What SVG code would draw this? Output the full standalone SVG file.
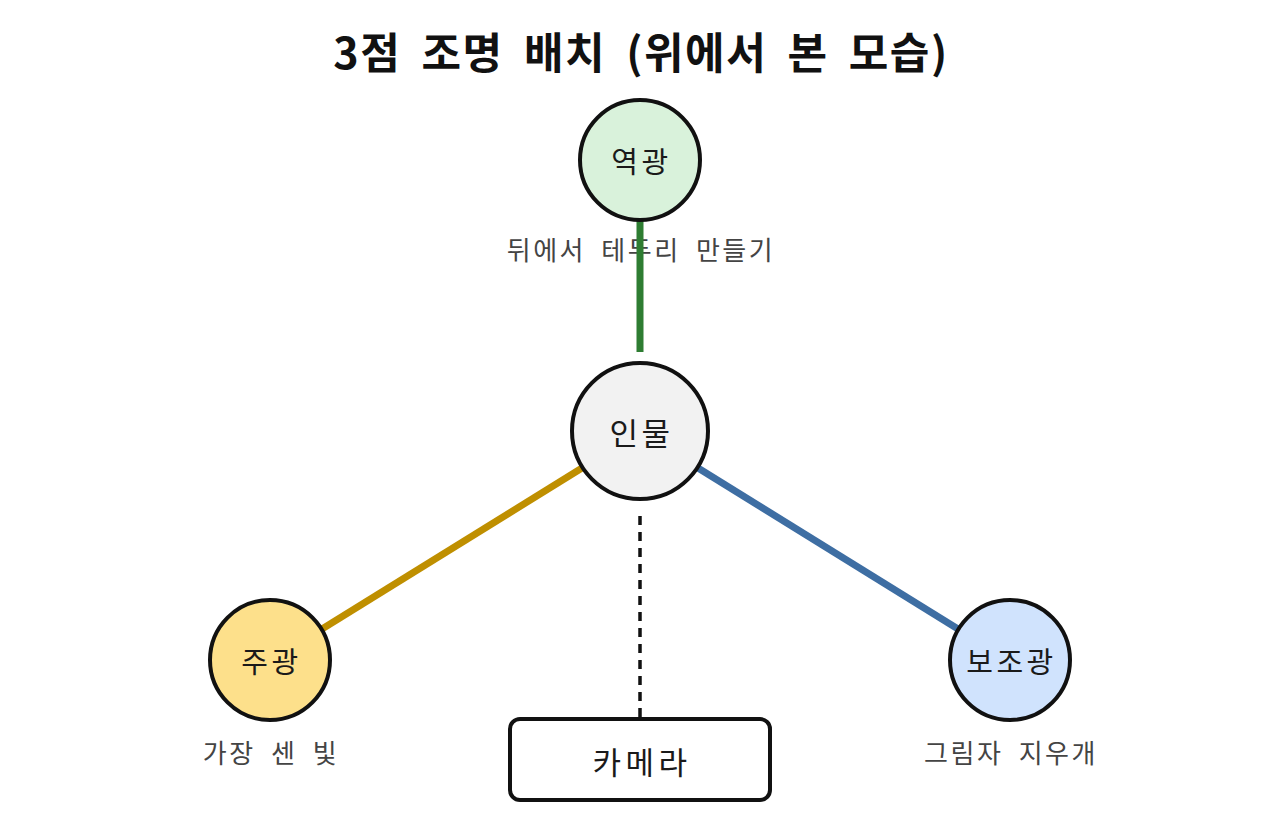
<svg xmlns="http://www.w3.org/2000/svg" width="1280" height="840" viewBox="0 0 1280 840">
<style>
text{font-family:"Noto Sans CJK KR","Noto Sans",sans-serif;text-anchor:middle;dominant-baseline:central}
.title{font-size:43px;font-weight:bold;fill:#111;word-spacing:9px;letter-spacing:1.5px}
.node{stroke:#111;stroke-width:4}
.nl{font-size:29px;fill:#1a1a1a;letter-spacing:3.5px}
.big{font-size:31px}
.sub{font-size:26px;fill:#444;word-spacing:7px;letter-spacing:2.5px}
</style>
<rect width="1280" height="840" fill="#fff"/>
<text class="title" x="641" y="50">3점 조명 배치 (위에서 본 모습)</text>
<text class="sub" x="641" y="248">뒤에서 테두리 만들기</text>
<g id="connectors" fill="none">
<line x1="640" y1="220" x2="640" y2="352" stroke="#2e7d32" stroke-width="7"/>
<line x1="582" y1="468" x2="322" y2="629" stroke="#bf8f00" stroke-width="7"/>
<line x1="698" y1="468" x2="958" y2="629" stroke="#3e6ea3" stroke-width="7"/>
<line x1="640" y1="516" x2="640" y2="718" stroke="#111" stroke-width="3.5" stroke-dasharray="9 7"/>
</g>
<g id="back">
<circle class="node" cx="640" cy="160" r="60" fill="#d9f2db"/>
<text class="nl" x="641.5" y="160">역광</text>
</g>
<g id="subject">
<circle class="node" cx="640" cy="431" r="68" fill="#f2f2f2"/>
<text class="nl big" x="641.5" y="431">인물</text>
</g>
<g id="key">
<circle class="node" cx="270" cy="660" r="60" fill="#fde08b"/>
<text class="nl" x="271.5" y="660">주광</text>
<text class="sub" x="271" y="751">가장 센 빛</text>
</g>
<g id="fill">
<circle class="node" cx="1010" cy="660" r="60" fill="#d0e3fd"/>
<text class="nl" x="1011.5" y="660">보조광</text>
<text class="sub" x="1011" y="751">그림자 지우개</text>
</g>
<g id="camera">
<rect class="node" x="510" y="719" width="260" height="81" rx="10" fill="#fff"/>
<text class="nl big" x="642" y="760" style="letter-spacing:4.5px">카메라</text>
</g>
</svg>
